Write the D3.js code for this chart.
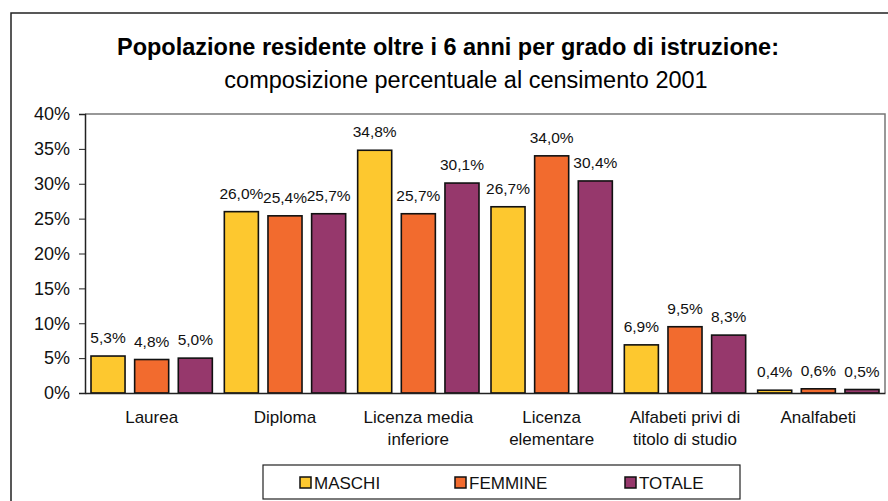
<!DOCTYPE html>
<html>
<head>
<meta charset="utf-8">
<script src="https://cdn.jsdelivr.net/npm/d3@7"></script>
<style>
  body { margin: 0; background: #fff; }
  svg { display: block; font-family: "Liberation Sans", Arial, Helvetica, sans-serif; }
</style>
</head>
<body>
<script>
// categorie e serie
var categories = ["Laurea", "Diploma", "Licenza media inferiore", "Licenza elementare",
    "Alfabeti privi di titolo di studio", "Analfabeti"];
var categoryLines = [["Laurea"], ["Diploma"], ["Licenza media", "inferiore"],
    ["Licenza", "elementare"], ["Alfabeti privi di", "titolo di studio"], ["Analfabeti"]];
var seriesNames = ["MASCHI", "FEMMINE", "TOTALE"];
var maschi  = [5.3, 26.0, 34.8, 26.7, 6.9, 0.4];
var femmine = [4.8, 25.4, 25.7, 34.0, 9.5, 0.6];
var totale  = [5.0, 25.7, 30.1, 30.4, 8.3, 0.5];
var yTicks = [0, 5, 10, 15, 20, 25, 30, 35, 40];

var colors = ["#FDC82F", "#F26B2E", "#96386C"];
var seriesValues = [maschi, femmine, totale];

var width = 888, height = 501;
var margin = { top: 114, left: 85, right: 3, bottom: 108 };

var svg = d3.select("body").append("svg")
    .attr("width", width)
    .attr("height", height);

// cornice esterna
svg.append("rect")
    .attr("x", 11).attr("y", 13)
    .attr("width", 900).attr("height", 520)
    .style("fill", "none")
    .style("stroke", "#222")
    .style("stroke-width", 1.5);

// titolo
svg.append("text")
    .attr("x", 448).attr("y", 55)
    .attr("text-anchor", "middle")
    .style("font-size", "23.5px")
    .style("font-weight", "bold")
    .text("Popolazione residente oltre i 6 anni per grado di istruzione:");
svg.append("text")
    .attr("x", 466).attr("y", 88)
    .attr("text-anchor", "middle")
    .style("font-size", "23.5px")
    .text("composizione percentuale al censimento 2001");

var x0 = d3.scaleBand()
    .domain(categories)
    .range([margin.left, width - margin.right]);

var x1 = d3.scaleBand()
    .domain(seriesNames)
    .range([6, x0.bandwidth() - 6])
    .paddingInner(0.22);

var y = d3.scaleLinear()
    .domain([0, 40])
    .range([height - margin.bottom, margin.top]);

// bordo area del grafico (alto e destra)
svg.append("path")
    .attr("d", "M" + margin.left + "," + y(40) + "H" + (width - margin.right) + "V" + y(0))
    .style("fill", "none")
    .style("stroke", "#777")
    .style("stroke-width", 1.5);

// asse y
var yAxis = svg.append("g")
    .attr("transform", "translate(" + margin.left + ",0)")
    .call(d3.axisLeft(y).tickValues(yTicks).tickSize(6).tickPadding(9)
        .tickFormat(function (d) { return d + "%"; }));
yAxis.select(".domain").style("stroke", "#222").style("stroke-width", 1.5);
yAxis.selectAll(".tick line").style("stroke", "#222").style("stroke-width", 1);
yAxis.selectAll(".tick text").style("font-size", "18px").style("fill", "#111")
    .attr("font-family", null);

// barre
var data = [];
categories.forEach(function (c, i) {
    seriesNames.forEach(function (s, j) {
        data.push({ cat: c, serie: s, value: seriesValues[j][i], color: colors[j] });
    });
});

svg.append("g").selectAll("rect")
    .data(data)
    .enter().append("rect")
    .attr("x", function (d) { return x0(d.cat) + x1(d.serie); })
    .attr("y", function (d) { return y(d.value); })
    .attr("width", x1.bandwidth())
    .attr("height", function (d) { return y(0) - y(d.value); })
    .style("fill", function (d) { return d.color; })
    .style("stroke", "#111")
    .style("stroke-width", 1.6);

// etichette dei valori
svg.append("g").selectAll("text")
    .data(data)
    .enter().append("text")
    .attr("x", function (d) { return x0(d.cat) + x1(d.serie) + x1.bandwidth() / 2; })
    .attr("y", function (d) { return y(d.value) - 13; })
    .attr("text-anchor", "middle")
    .style("font-size", "15.5px")
    .style("fill", "#111")
    .text(function (d) { return d.value.toFixed(1).replace(".", ",") + "%"; });

// asse x
var xAxis = svg.append("g")
    .attr("transform", "translate(0," + y(0) + ")")
    .call(d3.axisBottom(x0).tickSize(0).tickFormat(""));
xAxis.select(".domain").style("stroke", "#222").style("stroke-width", 1.5);

var catLabels = svg.append("g").selectAll("text")
    .data(categories)
    .enter().append("text")
    .attr("text-anchor", "middle")
    .attr("x", function (d) { return x0(d) + x0.bandwidth() / 2; })
    .attr("y", y(0) + 30)
    .style("font-size", "17px")
    .style("fill", "#111");
catLabels.each(function (d, i) {
    var t = d3.select(this);
    categoryLines[i].forEach(function (line, k) {
        t.append("tspan")
            .attr("x", x0(d) + x0.bandwidth() / 2)
            .attr("dy", k === 0 ? 0 : 22)
            .text(line);
    });
});

// legenda
var legend = svg.append("g").attr("transform", "translate(263,465)");
legend.append("rect")
    .attr("width", 477).attr("height", 34)
    .style("fill", "#fff")
    .style("stroke", "#222")
    .style("stroke-width", 1.2);
var legendX = [37, 192, 362];
seriesNames.forEach(function (s, j) {
    var g = legend.append("g").attr("transform", "translate(" + legendX[j] + ",0)");
    g.append("rect")
        .attr("x", 0).attr("y", 12)
        .attr("width", 11).attr("height", 11)
        .style("fill", colors[j])
        .style("stroke", "#111")
        .style("stroke-width", 1.5);
    g.append("text")
        .attr("x", 14).attr("y", 24)
        .style("font-size", "17px")
        .style("fill", "#111")
        .text(s);
});
</script>
</body>
</html>
